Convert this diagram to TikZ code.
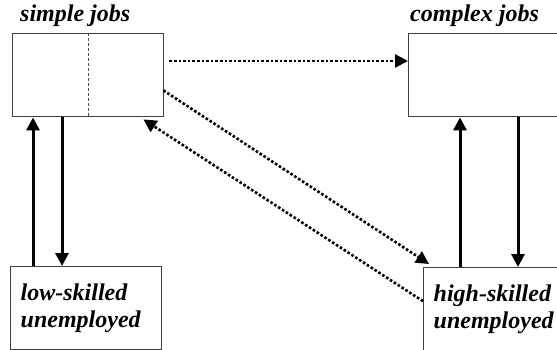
\documentclass[tikz,border=0pt]{standalone}
\usepackage{fontspec}
\setmainfont{Liberation Serif}[BoldFont={Liberation Serif Bold},ItalicFont={Liberation Serif Italic},BoldItalicFont={Liberation Serif Bold Italic}]
\usetikzlibrary{arrows.meta}
\begin{document}
\begin{tikzpicture}[x=1pt,y=-1pt,
  box/.style={draw=black!75,line width=1.4pt,minimum width=151pt,minimum height=83pt,anchor=north west,inner sep=0pt},
  tbox/.style={box,text width=131pt,align=left,inner xsep=10pt,
    font=\fontsize{24}{27}\selectfont\bfseries\itshape},
  title/.style={font=\fontsize{24}{27}\selectfont\bfseries\itshape,anchor=base west,inner sep=0pt},
  solidarr/.style={line width=3pt,-{Triangle[length=13pt,width=13pt]}},
  dotarr/.style={line width=2.6pt,dash pattern=on 2.6pt off 2pt,-{Triangle[length=13pt,width=13pt]}}]
\useasboundingbox (0,0) rectangle (557,350);
\node[box] (simple) at (12,33) {};
\node[box] (complex) at (408,33) {};
\node[tbox] (low) at (10,266) {low-skilled\\unemployed};
\node[tbox] (high) at (423,267) {high-skilled\\unemployed};
\node[title] (tsimple) at (20,22) {simple jobs};
\node[title] (tcomplex) at (410,22) {complex jobs};
\draw[black!70,line width=1pt,dash pattern=on 3pt off 2pt] ([xshift=76pt]simple.north west) -- ([xshift=76pt]simple.south west);
\coordinate (xa) at (33,0);
\coordinate (xb) at (62,0);
\coordinate (xc) at (460,0);
\coordinate (xd) at (518,0);
\draw[solidarr] (low.north -| xa) -- (simple.south -| xa);
\draw[solidarr] (simple.south -| xb) -- (low.north -| xb);
\draw[solidarr] (high.north -| xc) -- (complex.south -| xc);
\draw[solidarr] (complex.south -| xd) -- (high.north -| xd);
\draw[dotarr] ([xshift=5pt,yshift=-28pt]simple.north east) -- ([yshift=-28pt]complex.north west);
\draw[dotarr] ([xshift=-1pt,yshift=27pt]simple.south east) -- ([xshift=6pt,yshift=3pt]high.north west);
\draw[dotarr] ([yshift=8pt]high.west) -- ([xshift=-21pt,yshift=-2pt]simple.south east);
\end{tikzpicture}
\end{document}
